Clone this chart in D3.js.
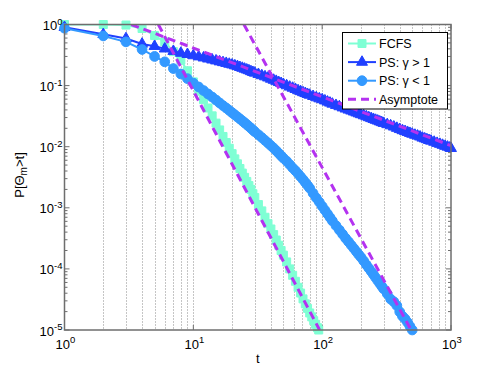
<!DOCTYPE html>
<html lang="en">
<head>
<meta charset="utf-8" />
<script src="https://cdn.jsdelivr.net/npm/d3@7"></script>
<style>
  body { margin: 0; background: #fff; }
  text { font-family: "Liberation Sans", Arial, sans-serif; fill: #000; }
</style>
</head>
<body>
<script>
// FCFS
const tFCFS = [1, 2, 3, 4, 5, 6, 7, 8, 9, 10, 11, 12, 13, 14, 15, 16, 17, 18, 19, 20, 21, 22, 23,
  24, 25, 26, 27, 28, 29, 30, 32, 34, 36, 38, 40, 42, 44, 46, 48, 50, 53, 56, 59, 62, 65, 68, 71,
  74, 77, 80, 83, 86, 89, 92, 94];
const pFCFS = [1, 1, 0.98, 0.86, 0.66, 0.52, 0.36, 0.26, 0.175, 0.115,
  0.081, 0.059, 0.043, 0.032, 0.0243, 0.0188, 0.0147, 0.0117, 0.00944, 0.0077,
  0.00632, 0.00525, 0.0044, 0.0037, 0.00315, 0.0027, 0.00231, 0.002, 0.0017, 0.00147,
  0.00113, 0.00089, 0.0007, 0.00055, 0.00045, 0.000364, 0.000297, 0.000244, 0.0002, 0.000168,
  0.00013, 0.0001, 0.0000785, 0.0000627, 0.00005, 0.0000403, 0.0000323, 0.0000268, 0.0000226,
  0.000019, 0.0000164, 0.0000142, 0.0000124, 0.0000109, 0.00001];

// PS, gamma > 1
const tPSup = [1, 2, 3, 4, 5, 6, 7, 8, 9, 10, 11, 12, 13, 14, 15, 16, 17, 18, 19, 20, 21, 22, 23,
  24, 25, 26, 27, 28, 29, 30, 32, 34, 36, 38, 40, 42, 44, 46, 48, 50, 53, 56, 59, 62, 65, 68, 71,
  74, 77, 80, 85, 90, 95, 100, 105, 110, 115, 120, 128, 136, 144, 152, 160, 168, 176, 184, 192,
  200, 210, 220, 230, 240, 250, 260, 270, 280, 290, 300, 320, 340, 360, 380, 400, 420, 440, 460,
  480, 500, 525, 550, 575, 600, 625, 650, 675, 700, 740, 780, 820, 860, 900, 940, 980, 1000];
const pPSup = [0.9, 0.69, 0.59, 0.48, 0.44, 0.4, 0.365, 0.34, 0.325, 0.31,
  0.297, 0.285, 0.274, 0.264, 0.255, 0.246, 0.239, 0.232, 0.225, 0.219,
  0.212, 0.206, 0.199, 0.193, 0.187, 0.181, 0.176, 0.17, 0.165, 0.161,
  0.153, 0.146, 0.14, 0.134, 0.128, 0.123, 0.118, 0.113, 0.109, 0.105,
  0.1, 0.095, 0.091, 0.087, 0.083, 0.08, 0.077, 0.0745, 0.072, 0.07,
  0.0667, 0.0636, 0.0611, 0.059, 0.0565, 0.054, 0.052, 0.05,
  0.0476, 0.0454, 0.0434, 0.0416, 0.04, 0.0386, 0.0372, 0.0359, 0.0347, 0.0336,
  0.0323, 0.0311, 0.03, 0.029, 0.0281, 0.0272, 0.0264, 0.0256, 0.0249, 0.0242,
  0.0231, 0.0221, 0.0211, 0.0201, 0.0192, 0.0184, 0.0178, 0.0172, 0.0166, 0.0161,
  0.0155, 0.015, 0.0145, 0.0139, 0.0135, 0.0131, 0.0127, 0.0124,
  0.0119, 0.0114, 0.011, 0.0106, 0.0102, 0.0099, 0.0096, 0.0094];

// PS, gamma < 1
const tPSdown = [1, 2, 3, 4, 5, 6, 7, 8, 9, 10, 11, 12, 13, 14, 15, 16, 17, 18, 19, 20, 21, 22,
  23, 24, 25, 26, 27, 28, 29, 30, 32, 34, 36, 38, 40, 42, 44, 46, 48, 50, 53, 56, 59, 62, 65, 68,
  71, 74, 77, 80, 85, 90, 95, 100, 105, 110, 115, 120, 128, 136, 144, 152, 160, 168, 176, 184,
  192, 200, 210, 220, 230, 240, 250, 260, 270, 280, 290, 300, 320, 340, 360, 380, 400, 420, 440,
  460, 480, 500];
const pPSdown = [0.87, 0.65, 0.52, 0.39, 0.3, 0.245, 0.19, 0.155, 0.13, 0.11,
  0.095, 0.083, 0.073, 0.065, 0.058, 0.052, 0.047, 0.043, 0.0393, 0.036,
  0.0332, 0.0307, 0.0285, 0.0265, 0.0247, 0.023, 0.0215, 0.0201, 0.0188, 0.0176,
  0.0157, 0.0141, 0.0127, 0.0115, 0.0104, 0.0095, 0.0086, 0.0078, 0.0071, 0.0065,
  0.0058, 0.0051, 0.0045, 0.00405, 0.00362, 0.00323, 0.0029, 0.0026, 0.00233, 0.0021,
  0.00173, 0.00145, 0.00124, 0.00106, 0.000915, 0.000795, 0.000695, 0.00061,
  0.00051, 0.000433, 0.00037, 0.000318, 0.000279, 0.000245, 0.000217, 0.000193, 0.000172, 0.000155,
  0.000135, 0.000117, 0.000103, 0.0000912, 0.000081, 0.000072, 0.0000643, 0.0000578, 0.000052,
  0.000047,
  0.000039, 0.000032, 0.000029, 0.000025, 0.0000198, 0.0000168, 0.0000152, 0.0000133,
  0.0000115, 0.00001];

// asymptotes (straight in log-log): end points [t, P]
const asymFCFS = [[5.35, 1], [95.5, 0.00001]];
const asymPSup = [[3.3, 1], [1000, 0.0104]];
const asymPSdown = [[24.7, 1], [490, 0.00001]];

const legendLabels = ["FCFS", "PS: \u03b3 > 1", "PS: \u03b3 < 1", "Asymptote"];
const xDecades = [0, 1, 2, 3];
const yDecades = [0, -1, -2, -3, -4, -5];

const w = 498, h = 374;
const pLeft = 64.5, pRight = 451, pTop = 24.5, pBottom = 330;

const cFCFS = "#7fffd4", cUp = "#2040ff", cDown = "#3399ff", cAsym = "#b432f0";
const sqSize = 64, triSize = 52, cirSize = 74;

const svg = d3.select("body").append("svg").attr("width", w).attr("height", h);

const x = d3.scaleLog().domain([1, 1000]).range([pLeft, pRight]);
const y = d3.scaleLog().domain([1e-5, 1]).range([pBottom, pTop]);

svg.append("defs").append("clipPath").attr("id", "plotclip")
  .append("rect").attr("x", pLeft).attr("y", pTop)
  .attr("width", pRight - pLeft).attr("height", pBottom - pTop);

// vertical dotted grid (major + minor)
let xGrid = [];
xDecades.slice(0, 3).forEach((e) => {
  for (let k = 1; k <= 9; k++) {
    const v = k * Math.pow(10, e);
    if (v > 1) xGrid.push(v);
  }
});
svg.append("g").selectAll("line").data(xGrid).join("line")
  .attr("x1", (d) => Math.round(x(d)) + 0.5).attr("x2", (d) => Math.round(x(d)) + 0.5)
  .attr("y1", pTop).attr("y2", pBottom)
  .attr("stroke", "#8a8a8a").attr("stroke-width", 1).attr("stroke-dasharray", "1,2");

// y ticks (left and right, inward)
let yMinor = [];
yDecades.slice(1).forEach((e) => {
  for (let k = 2; k <= 9; k++) yMinor.push(k * Math.pow(10, e));
});
const yMajor = yDecades.map((e) => Math.pow(10, e));
const tickG = svg.append("g").attr("stroke", "#6e6e6e").attr("stroke-width", 1);
[[pLeft, 1], [pRight, -1]].forEach(([x0, dir]) => {
  tickG.append("g").selectAll("line").data(yMinor).join("line")
    .attr("x1", x0).attr("x2", x0 + dir * 3)
    .attr("y1", (d) => y(d)).attr("y2", (d) => y(d));
  tickG.append("g").selectAll("line").data(yMajor).join("line")
    .attr("x1", x0).attr("x2", x0 + dir * 5)
    .attr("y1", (d) => y(d)).attr("y2", (d) => y(d));
});
const xMajor = xDecades.map((e) => Math.pow(10, e));
[[pBottom, -1], [pTop, 1]].forEach(([y0, dir]) => {
  tickG.append("g").selectAll("line").data(xMajor).join("line")
    .attr("y1", y0).attr("y2", y0 + dir * 5)
    .attr("x1", (d) => x(d)).attr("x2", (d) => x(d));
});

// series
const line = d3.line().x((d) => x(d[0])).y((d) => y(d[1]));
const zip = (a, b) => a.map((v, i) => [v, b[i]]);

const series = [
  { data: zip(tFCFS, pFCFS), color: cFCFS, symbol: d3.symbolSquare, size: sqSize },
  { data: zip(tPSup, pPSup), color: cUp, symbol: d3.symbolTriangle, size: triSize },
  { data: zip(tPSdown, pPSdown), color: cDown, symbol: d3.symbolCircle, size: cirSize },
];

series.forEach((s) => {
  svg.append("path").datum(s.data)
    .attr("clip-path", "url(#plotclip)")
    .attr("d", line).attr("fill", "none")
    .attr("stroke", s.color).attr("stroke-width", 2);
  svg.append("g").selectAll("path").data(s.data).join("path")
    .attr("transform", (d) => `translate(${x(d[0])},${y(d[1])})`)
    .attr("d", d3.symbol().type(s.symbol).size(s.size))
    .attr("fill", s.color).attr("stroke", s.color).attr("stroke-width", 1);
});

[asymFCFS, asymPSup, asymPSdown].forEach((a) => {
  svg.append("path").datum(a)
    .attr("clip-path", "url(#plotclip)")
    .attr("d", line).attr("fill", "none")
    .attr("stroke", cAsym).attr("stroke-width", 3)
    .attr("stroke-dasharray", "8,5");
});

// axes box
svg.append("rect").attr("x", pLeft).attr("y", pTop)
  .attr("width", pRight - pLeft).attr("height", pBottom - pTop)
  .attr("fill", "none").attr("stroke", "#6e6e6e").attr("stroke-width", 1.5);

// tick labels
const yl = svg.append("g").selectAll("text").data(yDecades).join("text")
  .attr("x", pLeft - 2).attr("y", (d) => y(Math.pow(10, d)) + 5.5)
  .attr("text-anchor", "end").attr("font-size", 13);
yl.append("tspan").text("10");
yl.append("tspan").attr("dy", -5.5).attr("font-size", 9.5).text((d) => String(d));

const xl = svg.append("g").selectAll("text").data(xDecades).join("text")
  .attr("x", (d) => x(Math.pow(10, d)) + 1).attr("y", pBottom + 19)
  .attr("text-anchor", "middle").attr("font-size", 13);
xl.append("tspan").text("10");
xl.append("tspan").attr("dy", -6).attr("font-size", 9.5).text((d) => String(d));

// axis labels
svg.append("text").attr("x", (pLeft + pRight) / 2).attr("y", pBottom + 33)
  .attr("text-anchor", "middle").attr("font-size", 13).text("t");

const ylab = svg.append("text")
  .attr("transform", `translate(24,175) rotate(-90)`)
  .attr("text-anchor", "middle").attr("font-size", 13);
ylab.append("tspan").text("P[\u0398");
ylab.append("tspan").attr("dy", 3).attr("font-size", 10).text("m");
ylab.append("tspan").attr("dy", -3).text(">t]");

// legend
const lg = svg.append("g");
lg.append("rect").attr("x", 342.5).attr("y", 32.5).attr("width", 105).attr("height", 76.5)
  .attr("fill", "#fff").attr("stroke", "#000").attr("stroke-width", 1);
const legendItems = [
  { color: cFCFS, symbol: d3.symbolSquare, size: sqSize },
  { color: cUp, symbol: d3.symbolTriangle, size: triSize },
  { color: cDown, symbol: d3.symbolCircle, size: cirSize },
  { color: cAsym, dash: true },
];
legendItems.forEach((it, i) => {
  const cy = 43.5 + i * 18.6;
  const g = lg.append("g");
  g.append("line").attr("x1", 348).attr("x2", 376).attr("y1", cy).attr("y2", cy)
    .attr("stroke", it.color).attr("stroke-width", it.dash ? 3 : 2)
    .attr("stroke-dasharray", it.dash ? "8,5" : null);
  if (!it.dash) {
    g.append("path").attr("transform", `translate(362,${cy})`)
      .attr("d", d3.symbol().type(it.symbol).size(it.size))
      .attr("fill", it.color).attr("stroke", it.color);
  }
  g.append("text").attr("x", 379).attr("y", cy + 4.5).attr("font-size", 12.5)
    .text(legendLabels[i]);
});
</script>
</body>
</html>
